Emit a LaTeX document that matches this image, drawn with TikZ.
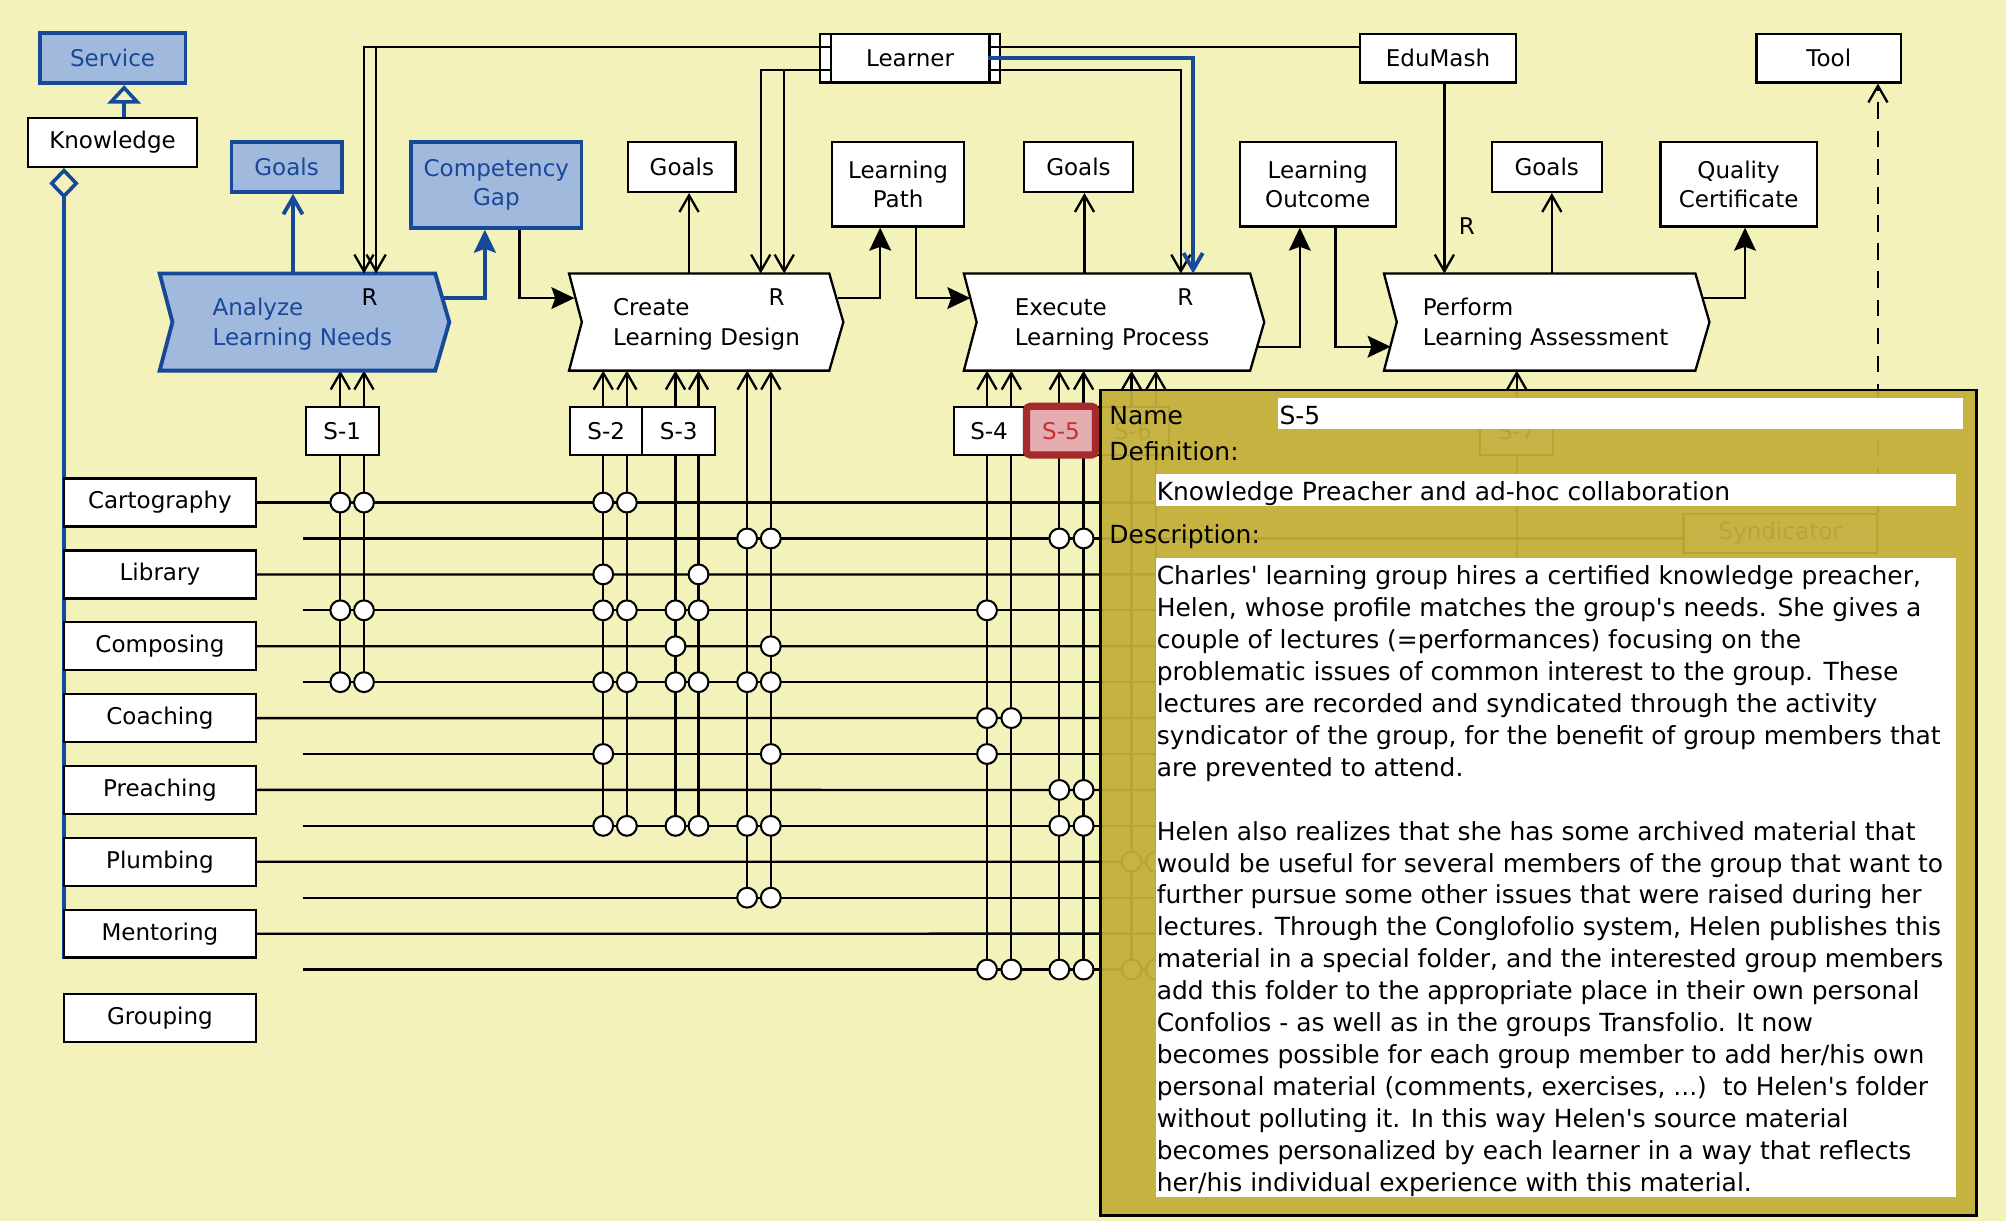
\documentclass[tikz,border=0pt]{standalone}
\usepackage{fontspec}
\setmainfont{DejaVu Sans}[Ligatures=TeXOff]
\usetikzlibrary{arrows.meta}
\definecolor{bgc}{RGB}{242,242,186}
\definecolor{bblue}{RGB}{24,72,152}
\definecolor{bfill}{RGB}{162,185,222}
\definecolor{popc}{RGB}{196,174,58}
\definecolor{redb}{RGB}{165,42,44}
\definecolor{pinkf}{RGB}{228,172,176}
\definecolor{redt}{RGB}{196,48,52}
\tikzset{
  lab/.style={font=\fontsize{18}{23}\selectfont},
  dsc/.style={font=\fontsize{19.5}{25}\selectfont, inner sep=0pt, anchor=base west},
  bx/.style={draw=black, fill=white, line width=1.8pt, inner sep=0pt, align=center, lab},
  bbx/.style={draw=bblue, fill=bfill, line width=3pt, inner sep=0pt, align=center, text=bblue, lab},
  ln/.style={draw=black, line width=1.8pt},
  bln/.style={draw=bblue, line width=3pt},
  oa/.style={-{Straight Barb[length=13pt,width=15pt]}},
  fa/.style={-{Stealth[length=18pt,width=17pt,inset=3pt]}},
  jn/.style={circle, draw=black, fill=white, line width=1.6pt, minimum size=15.5pt, inner sep=0pt},
  anc/.style={rectangle, inner sep=0pt, minimum height=75.5pt},
  field/.style={fill=white, inner sep=0pt},
  rlab/.style={lab, inner sep=0pt},
}
\newcommand{\drawchev}[2]{\path[#2] (#1.north west) -- ([xshift=-11pt]#1.north east) -- (#1.east) -- ([xshift=-11pt]#1.south east) -- (#1.south west) -- ([xshift=10pt]#1.west) -- cycle;}
\newcommand{\threedots}{...}
\begin{document}
\begin{tikzpicture}[x=1pt,y=-1pt]
\useasboundingbox (0,0) rectangle (1568,954);
\fill[bgc] (0,0) rectangle (1568,954);

% ---------- Service / Knowledge ----------
\node[bbx, minimum width=114pt, minimum height=39pt] (service) at (88,45.5) {Service};
\node[bx, minimum width=132pt, minimum height=38pt] (knowledge) at (88,111.4) {Knowledge};
\coordinate (aggend) at (50,749.5);
\draw[draw=bblue, line width=2.8pt, -{Triangle[open,length=14.5pt,width=26pt]}] ([xshift=9pt]knowledge.north) -- ([xshift=9pt]service.south);
\draw[draw=bblue, line width=2.8pt, -{Diamond[open,length=24pt,width=23pt]}] (aggend) -- ([xshift=-38pt]knowledge.south);

% ---------- row boxes ----------
\node[bx, minimum width=150pt, minimum height=37.4pt] (cart) at (125,392.8) {Cartography};
\node[bx, minimum width=150pt, minimum height=37.4pt] (lib) at (125,449.0) {Library};
\node[bx, minimum width=150pt, minimum height=37.4pt] (comp) at (125,505.1) {Composing};
\node[bx, minimum width=150pt, minimum height=37.4pt] (coach) at (125,561.3) {Coaching};
\node[bx, minimum width=150pt, minimum height=37.4pt] (preach) at (125,617.4) {Preaching};
\node[bx, minimum width=150pt, minimum height=37.4pt] (plumb) at (125,673.6) {Plumbing};
\node[bx, minimum width=150pt, minimum height=37.4pt] (ment) at (125,729.8) {Mentoring};
\node[bx, minimum width=150pt, minimum height=37.4pt] (group) at (125,795.5) {Grouping};

% ---------- hidden (under popup) ----------
\node[bx, minimum width=151pt, minimum height=30pt] (synd) at (1391.5,417) {Syndicator};

% ---------- row lines ----------
\foreach \i in {0,...,13} {
  \pgfmathsetmacro\yy{392.8+28.08*\i}
  \coordinate (rs\i) at (237,\yy);
  \coordinate (re\i) at (1200,\yy);
}
\draw[ln] (cart.east) -- (re0);
\draw[ln] (lib.east) -- (re2);
\draw[ln] (comp.east) -- (re4);
\draw[ln] (coach.east) -- (re6);
\draw[ln] (preach.east) -- (re8);
\draw[ln] (plumb.east) -- (re10);
\draw[ln] (ment.east) -- (re12);
\draw[ln] (rs1) -- (synd.west |- rs1);
\foreach \i in {3,5,7,9,11,13} \draw[ln] (rs\i) -- (re\i);

% ---------- chevron anchors ----------
\node[anc, minimum width=226pt] (aln) at (238,251.75) {};
\node[anc, minimum width=214pt] (cld) at (552,251.75) {};
\node[anc, minimum width=234.4pt] (elp) at (870.8,251.75) {};
\node[anc, minimum width=254pt] (pla) at (1209,251.75) {};

% ---------- columns ----------
\foreach \x/\b/\t in {266/5/aln, 284.5/5/aln, 471.5/9/cld, 490/9/cld, 528/9/cld, 546/9/cld, 584/11/cld, 602.5/11/cld, 771.5/13/elp, 790.5/13/elp, 828/13/elp, 847/13/elp, 884.5/13/elp, 903.5/13/elp, 1185.6/13/pla}
  \draw[ln,oa] (\x,{392.8+28.08*\b}) -- (\x,0 |- \t.south);

% ---------- chevrons ----------
\drawchev{aln}{draw=bblue, fill=bfill, line width=3pt}
\drawchev{cld}{draw=black, fill=white, line width=1.8pt}
\drawchev{elp}{draw=black, fill=white, line width=1.8pt}
\drawchev{pla}{draw=black, fill=white, line width=1.8pt}
\node[lab, align=left, anchor=west, inner sep=0pt, text=bblue] (alnt) at (166,253.5) {Analyze\\Learning Needs};
\node[lab, align=left, anchor=west, inner sep=0pt] (cldt) at (479,253.5) {Create\\Learning Design};
\node[lab, align=left, anchor=west, inner sep=0pt] (elpt) at (793,253.5) {Execute\\Learning Process};
\node[lab, align=left, anchor=west, inner sep=0pt] (plat) at (1112,253.5) {Perform\\Learning Assessment};
\node[rlab] (r1) at (289,232) {R};
\node[rlab] (r2) at (607,232) {R};
\node[rlab] (r3) at (926.5,232) {R};
\node[rlab] (r4) at (1146.6,177) {R};

% ---------- junctions ----------
\foreach \x/\rs [count=\c] in {266/{0,3,5}, 284.5/{0,3,5}, 471.5/{0,2,3,5,7,9}, 490/{0,3,5,9}, 528/{3,4,5,9}, 546/{2,3,5,9}, 584/{1,5,9,11}, 602.5/{1,4,5,7,9,11}, 771.5/{3,6,7,13}, 790.5/{6,13}, 828/{1,8,9,13}, 847/{1,8,9,13}, 884.5/{10,13}, 903.5/{10,13}}
  \foreach \r in \rs \node[jn] (j\c-\r) at (\x,{392.8+28.08*\r}) {};

% ---------- S boxes ----------
\node[bx, minimum width=57pt, minimum height=37.4pt] (s1) at (267.5,336.7) {S-1};
\node[bx, minimum width=56.3pt, minimum height=37.4pt] (s2) at (473.9,336.7) {S-2};
\node[bx, minimum width=57pt, minimum height=37.4pt] (s3) at (530.5,336.7) {S-3};
\node[bx, minimum width=54.8pt, minimum height=37.4pt] (s4) at (773.1,336.7) {S-4};
\node[bx, minimum width=56pt, minimum height=37.4pt] (s6) at (885.5,336.7) {S-6};
\node[bx, minimum width=57pt, minimum height=37.4pt] (s7) at (1185.5,336.7) {S-7};
\node[draw=redb, line width=5.6pt, rounded corners=3pt, fill=pinkf, text=redt, lab, inner sep=0pt, minimum width=54pt, minimum height=38pt] (s5) at (829.3,336.6) {S-5};

% ---------- top boxes ----------
\node[bbx, minimum width=86pt, minimum height=39pt] (goals0) at (224,130.5) {Goals};
\node[bbx, minimum width=133pt, minimum height=67pt] (cgap) at (388,144.5) {Competency\\Gap};
\node[bx, minimum width=140.7pt, minimum height=37.6pt] (learner) at (711.4,45.6) {Learner};
\draw[ln] ([xshift=9.3pt]learner.north west) -- ([xshift=9.3pt]learner.south west);
\draw[ln] ([xshift=-9.2pt]learner.north east) -- ([xshift=-9.2pt]learner.south east);
\node[bx, minimum width=84pt, minimum height=39pt] (goals1) at (533,130.5) {Goals};
\node[bx, minimum width=103pt, minimum height=66pt] (lpath) at (702,144) {Learning\\Path};
\node[bx, minimum width=85pt, minimum height=39pt] (goals2) at (843,130.5) {Goals};
\node[bx, minimum width=122pt, minimum height=66pt] (lout) at (1030,144) {Learning\\Outcome};
\node[bx, minimum width=122pt, minimum height=37.6pt] (edumash) at (1124,45.6) {EduMash};
\node[bx, minimum width=86pt, minimum height=39pt] (goals3) at (1209,130.5) {Goals};
\node[bx, minimum width=122pt, minimum height=66pt] (qcert) at (1359,144) {Quality\\Certificate};
\node[bx, minimum width=113pt, minimum height=37.6pt] (tool) at (1429.5,45.6) {Tool};

% ---------- learner connectors ----------
\coordinate (lL1) at (650.4,36.5);
\coordinate (lL2) at (650.4,54.7);
\coordinate (lR1) at (772.5,36.5);
\coordinate (lR2) at (772.5,54.7);
\coordinate (lRb) at (772.5,45.6);
\draw[ln,oa] (lL1) -- (284.5,36.5) -- (284.5,0 |- aln.north);
\draw[ln,oa] (294,36.5) -- (294,0 |- aln.north);
\draw[ln,oa] (lL2) -- (594.6,54.7) -- (594.6,0 |- cld.north);
\draw[ln,oa] (613,54.7) -- (613,0 |- cld.north);
\draw[ln] (lR1) -- (lR1 -| edumash.west);
\draw[ln,oa] (lR2) -- (923,54.7) -- (923,0 |- elp.north);
\draw[bln,oa] (lRb) -- (932.6,45.6) -- (932.6,0 |- elp.north);

% ---------- flow connectors ----------
\draw[bln,oa] (229,0 |- aln.north) -- (229,0 |- goals0.south);
\draw[bln,fa] (346,233) -- (379,233) -- (379,0 |- cgap.south);
\draw[ln,fa] (406,0 |- cgap.south) -- (406,233) -- (449,233);
\draw[ln,oa] (538.6,0 |- cld.north) -- (538.6,0 |- goals1.south);
\draw[ln,fa] (655,233) -- (688,233) -- (688,0 |- lpath.south);
\draw[ln,fa] (716,0 |- lpath.south) -- (716,233) -- (758.5,233);
\draw[ln,oa] (847.7,0 |- elp.north) -- (847.7,0 |- goals2.south);
\draw[ln,fa] (983,271) -- (1016,271) -- (1016,0 |- lout.south);
\draw[ln,fa] (1044,0 |- lout.south) -- (1044,271) -- (1087,271);
\draw[ln,oa] (1129,0 |- edumash.south) -- (1129,0 |- pla.north);
\draw[ln,oa] (1213,0 |- pla.north) -- (1213,0 |- goals3.south);
\draw[ln,fa] (1330.5,233) -- (1364,233) -- (1364,0 |- qcert.south);
\draw[ln,oa,dash pattern=on 13pt off 9pt] (synd.north east) -- (synd.north east |- tool.south);

% ---------- popup ----------
\node[draw=black, line width=2pt, fill=popc, fill opacity=0.94, minimum width=685pt, minimum height=645pt, inner sep=0pt] (popup) at (1202.5,627.5) {};
\node[field, minimum width=535.9pt, minimum height=24.5pt] (namef) at (1266.65,323.25) {};
\node[field, minimum width=625.4pt, minimum height=24.7pt] (deff) at (1216.3,382.95) {};
\node[field, minimum width=625.4pt, minimum height=500pt] (descf) at (1216.3,686) {};
\node[dsc] (namel) at (867,331.6) {Name};
\node[dsc] (namev) at (1000,331.6) {S-5};
\node[dsc] (defl) at (867,359.6) {Definition:};
\node[dsc] (defv) at (904,391) {Knowledge Preacher and ad-hoc collaboration};
\node[dsc] (descl) at (867,425) {Description:};
\foreach \dline [count=\k] in {
 {Charles' learning group hires a certified knowledge preacher,},
 {Helen, whose profile matches the group's needs. She gives a},
 {couple of lectures (=performances) focusing on the},
 {problematic issues of common interest to the group. These},
 {lectures are recorded and syndicated through the activity},
 {syndicator of the group, for the benefit of group members that},
 {are prevented to attend.},
 {},
 {Helen also realizes that she has some archived material that},
 {would be useful for several members of the group that want to},
 {further pursue some other issues that were raised during her},
 {lectures. Through the Conglofolio system, Helen publishes this},
 {material in a special folder, and the interested group members},
 {add this folder to the appropriate place in their own personal},
 {Confolios - as well as in the groups Transfolio. It now},
 {becomes possible for each group member to add her/his own},
 {personal material (comments, exercises, \threedots)\ \ to Helen's folder},
 {without polluting it. In this way Helen's source material},
 {becomes personalized by each learner in a way that reflects},
 {her/his individual experience with this material.}}
  \node[dsc] (dl\k) at (904,{456.6+25*(\k-1)}) {\dline};
\end{tikzpicture}
\end{document}
